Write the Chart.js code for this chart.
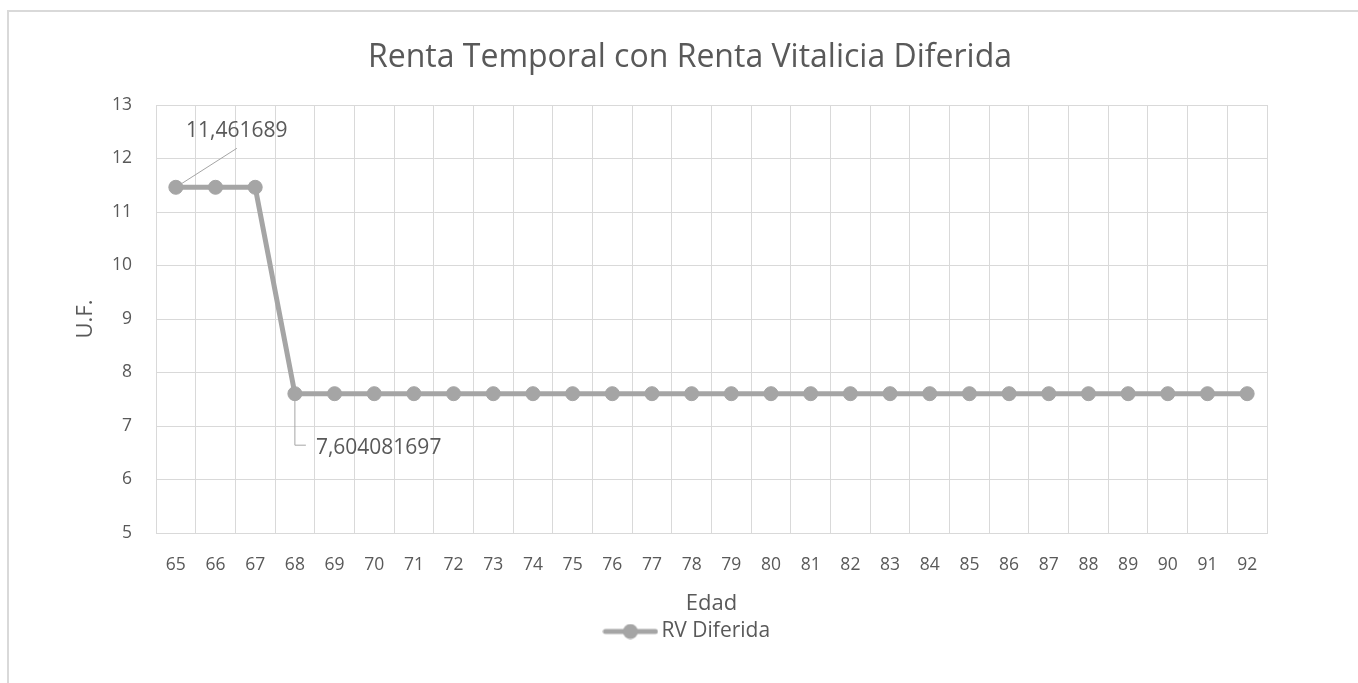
<!DOCTYPE html>
<html><head><meta charset="utf-8">
<script src="https://cdn.jsdelivr.net/npm/chart.js@4.4.1/dist/chart.umd.min.js"></script>
<style>html,body{margin:0;padding:0;background:#fff;overflow:hidden}
#wrap{position:relative;width:1358px;height:683px}</style></head>
<body><div id="wrap"><canvas id="c"></canvas></div>
<script>
const chartTitle = 'Renta Temporal con Renta Vitalicia Diferida';
const xTitle = 'Edad';
const yTitle = 'U.F.';
const seriesName = 'RV Diferida';
const edades = ['65','66','67','68','69','70','71','72','73','74','75','76','77','78','79','80','81','82','83','84','85','86','87','88','89','90','91','92'];
const rvDiferida = [11.461689, 11.461689, 11.461689, 7.604081697, 7.604081697, 7.604081697, 7.604081697, 7.604081697, 7.604081697, 7.604081697, 7.604081697, 7.604081697, 7.604081697, 7.604081697, 7.604081697, 7.604081697, 7.604081697, 7.604081697, 7.604081697, 7.604081697, 7.604081697, 7.604081697, 7.604081697, 7.604081697, 7.604081697, 7.604081697, 7.604081697, 7.604081697];
const yMin = 5, yMax = 13, yStep = 1;
const labeledPoints = [0, 3];

const FONT = "'Open Sans', sans-serif";
const TEXT = '#595959', GRID = '#d9d9d9', LINE = '#a5a5a5';

// label placement (style only)
const labelStyle = {
  0: {dx: 61, base: -50, align: 'center', leader: 'diag'},
  3: {dx: 21, base: 60, align: 'left', leader: 'elbow'}
};

const icon = document.createElement('canvas');
icon.width = 56; icon.height = 16;
(function(){
  const c = icon.getContext('2d');
  c.strokeStyle = LINE; c.lineWidth = 5; c.lineCap = 'round';
  c.beginPath(); c.moveTo(3, 8); c.lineTo(53, 8); c.stroke();
  c.fillStyle = LINE; c.beginPath(); c.arc(28, 8, 7.5, 0, Math.PI*2); c.fill();
})();

const fmt = v => String(v).replace('.', ',');

const frame = {
  id: 'frame',
  beforeDraw(chart) {
    const ctx = chart.ctx;
    ctx.save();
    ctx.fillStyle = '#fff';
    ctx.fillRect(0, 0, chart.width, chart.height);
    ctx.strokeStyle = GRID; ctx.lineWidth = 2;
    ctx.strokeRect(8, 11, chart.width + 20, chart.height + 20);
    ctx.restore();
  }
};

const dataLabels = {
  id: 'dataLabels',
  beforeDatasetsDraw(chart) {
    const meta = chart.getDatasetMeta(0);
    const ctx = chart.ctx;
    ctx.save();
    ctx.strokeStyle = LINE; ctx.lineWidth = 1;
    labeledPoints.forEach(i => {
      const p = meta.data[i], s = labelStyle[i];
      ctx.beginPath();
      if (s.leader === 'diag') {
        ctx.moveTo(p.x, p.y); ctx.lineTo(p.x + 61, p.y - 39);
      } else {
        ctx.moveTo(p.x, p.y); ctx.lineTo(p.x, p.y + 51.5); ctx.lineTo(p.x + 11, p.y + 51.5);
      }
      ctx.stroke();
    });
    ctx.restore();
  },
  afterDatasetsDraw(chart) {
    const meta = chart.getDatasetMeta(0);
    const ctx = chart.ctx;
    ctx.save();
    ctx.fillStyle = TEXT;
    ctx.font = "21px " + FONT;
    ctx.textBaseline = 'alphabetic';
    labeledPoints.forEach(i => {
      const p = meta.data[i], s = labelStyle[i];
      ctx.textAlign = s.align;
      ctx.fillText(fmt(rvDiferida[i]), p.x + s.dx, p.y + s.base);
    });
    ctx.restore();
  }
};

new Chart(document.getElementById('c'), {
  type: 'line',
  data: {
    labels: edades,
    datasets: [{
      label: seriesName,
      data: rvDiferida,
      borderColor: LINE,
      backgroundColor: LINE,
      borderWidth: 5,
      pointRadius: 7,
      pointBorderWidth: 1,
      pointBackgroundColor: LINE,
      pointBorderColor: LINE,
      tension: 0,
      fill: false
    }]
  },
  options: {
    responsive: true,
    maintainAspectRatio: false,
    animation: false,
    layout: {padding: {left: 22, right: 0, top: 0, bottom: 31}},
    plugins: {
      title: {display: true, text: chartTitle, color: TEXT, font: {family: FONT, size: 32, weight: 'normal'}, padding: {top: 39, bottom: 27.6}},
      legend: {position: 'bottom', labels: {usePointStyle: true, pointStyle: icon, pointStyleWidth: 41, padding: 4, color: TEXT, font: {family: FONT, size: 21}}},
      tooltip: {enabled: false}
    },
    scales: {
      x: {
        offset: true,
        grid: {offset: true, color: GRID, lineWidth: 1, drawTicks: false},
        border: {color: GRID, width: 1},
        ticks: {color: TEXT, font: {family: FONT, size: 17.5}, padding: 22, maxRotation: 0, autoSkip: false},
        title: {display: true, text: xTitle, color: TEXT, font: {family: FONT, size: 22}, padding: {top: 0, bottom: 0}},
        afterFit(s) { s.height = 84; }
      },
      y: {
        min: yMin, max: yMax,
        ticks: {stepSize: yStep, color: TEXT, font: {family: FONT, size: 17.5}, padding: 24},
        grid: {color: GRID, lineWidth: 1, drawTicks: false},
        border: {color: GRID, width: 1},
        title: {display: true, text: yTitle, color: TEXT, font: {family: FONT, size: 22}, padding: {top: 51, bottom: 0}},
        afterFit(s) { s.width = 134; }
      },
      y2: {
        position: 'right',
        grid: {display: false},
        border: {display: false},
        ticks: {display: false},
        afterFit(s) { s.width = 91; }
      }
    }
  },
  plugins: [frame, dataLabels]
});
</script>
</body></html>
